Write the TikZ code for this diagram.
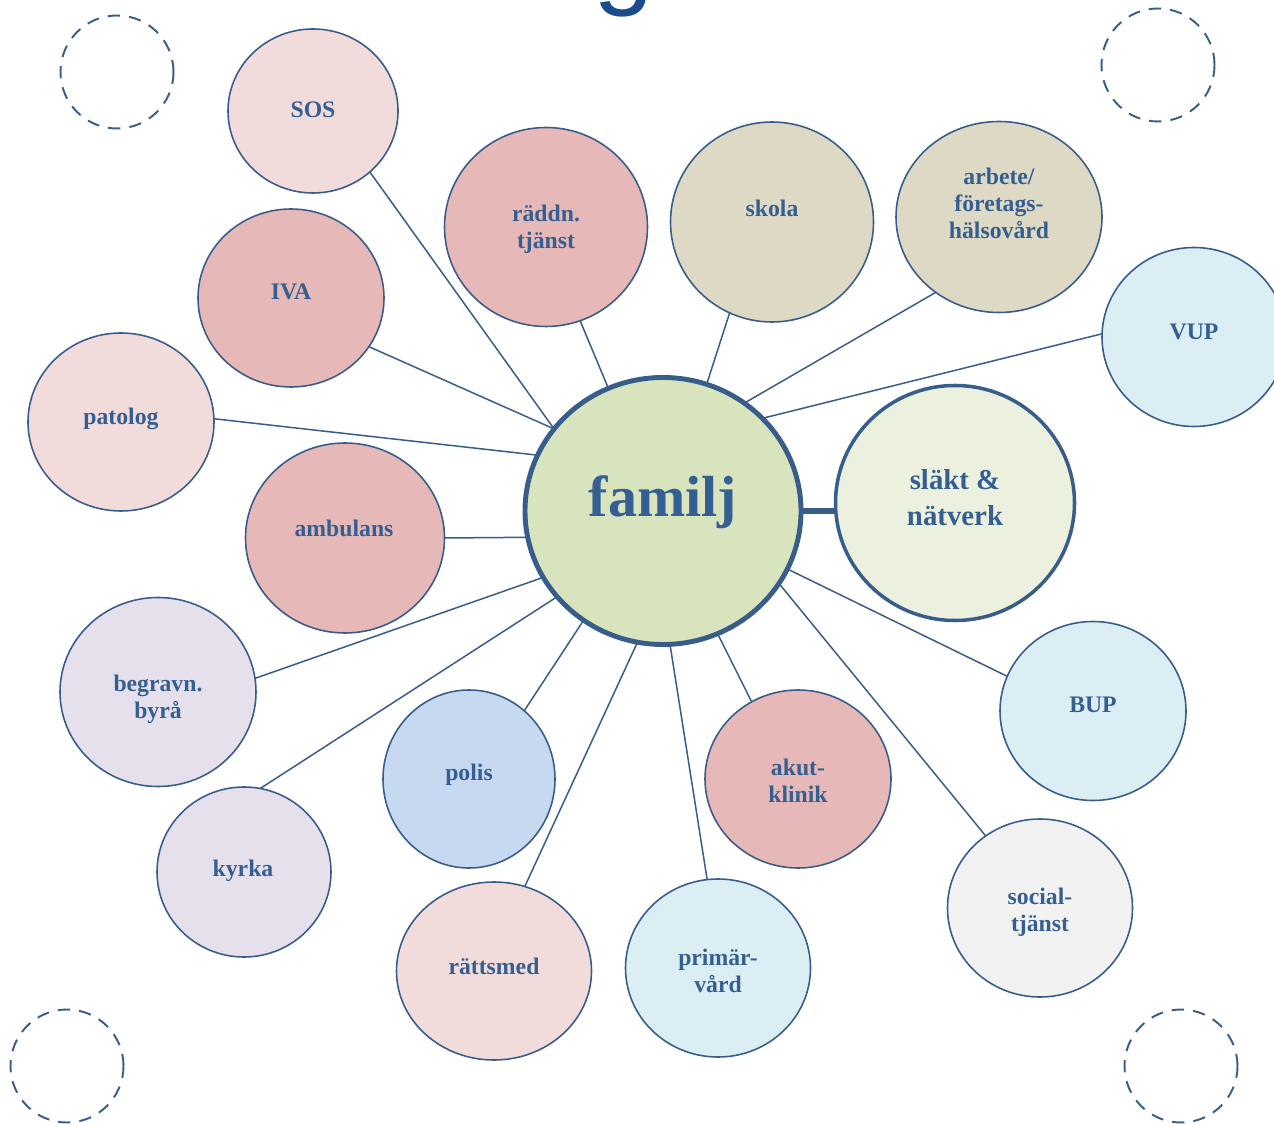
\documentclass[tikz,border=0pt]{standalone}
\usepackage{fontspec}
\setmainfont{Liberation Serif}
\newfontfamily\titlefont{Liberation Sans}
\usetikzlibrary{shapes.geometric}
\definecolor{txt}{HTML}{365F91}
\definecolor{edge}{HTML}{385D8A}
\definecolor{titleblue}{HTML}{1A4C8C}
\definecolor{cpink}{HTML}{F2DCDB}
\definecolor{cred}{HTML}{E6B8B7}
\definecolor{ctan}{HTML}{DDD9C4}
\definecolor{cltblue}{HTML}{DBEEF4}
\definecolor{clav}{HTML}{E5E0EC}
\definecolor{cblue}{HTML}{C6D9F0}
\definecolor{cgrey}{HTML}{F2F2F2}
\definecolor{cgreen}{HTML}{D7E4BD}
\definecolor{cltgreen}{HTML}{EBF1DE}
\begin{document}
\begin{tikzpicture}[x=0.02cm,y=-0.02cm,
  bub/.style={ellipse, draw=edge, line width=0.9pt, inner sep=0pt, outer sep=0pt},
  sz/.style 2 args={minimum width=#1*0.02cm, minimum height=#2*0.02cm},
  lbl/.style={text=txt, font=\bfseries\fontsize{13.5}{15.4}\selectfont, align=center, inner sep=0pt},
  conn/.style={draw=edge, line width=0.85pt},
  ring/.style={circle, draw=edge, line width=1.1pt, dash pattern=on 7pt off 5.2pt, minimum size=113*0.02cm, inner sep=0pt}
]
\clip (0,0) rectangle (1274,1124);
\fill[white] (0,0) rectangle (1274,1124);

% partial title
\node[anchor=base, text=titleblue, font=\titlefont\fontsize{62}{62}\selectfont, inner sep=0pt] (title) at (624,-5) {g};

% dashed rings
\node[ring] (r1) at (117,72) {};
\node[ring] (r2) at (1158,65) {};
\node[ring] (r3) at (67,1066) {};
\node[ring] (r4) at (1181,1066) {};

% central nodes
\node[bub, fill=cgreen, line width=2.8pt, sz={276}{267}] (familj) at (663,511) {};
\node[bub, fill=cltgreen, line width=2pt, sz={239}{235}] (slakt) at (955,503) {};

% bubbles
\node[bub, fill=cpink,   sz={170}{164}] (sos)    at (313,111) {};
\node[bub, fill=cred,    sz={203}{199}] (radd)   at (546,227) {};
\node[bub, fill=ctan,    sz={203}{200}] (skola)  at (772,222) {};
\node[bub, fill=ctan,    sz={206}{191}] (arbete) at (999,217) {};
\node[bub, fill=cltblue, sz={184}{179}] (vup)    at (1194,337) {};
\node[bub, fill=cred,    sz={186}{178}] (iva)    at (291,298) {};
\node[bub, fill=cpink,   sz={186}{178}] (pat)    at (121,422) {};
\node[bub, fill=cred,    sz={199}{190}] (amb)    at (345,538) {};
\node[bub, fill=clav,    sz={196}{189}] (begr)   at (158,692) {};
\node[bub, fill=clav,    sz={174}{170}] (kyrka)  at (244,872) {};
\node[bub, fill=cblue,   sz={172}{178}] (polis)  at (469,779) {};
\node[bub, fill=cpink,   sz={195}{178}] (ratt)   at (494,971) {};
\node[bub, fill=cltblue, sz={185}{178}] (prim)   at (718,968) {};
\node[bub, fill=cred,    sz={186}{178}] (akut)   at (798,779) {};
\node[bub, fill=cltblue, sz={186}{179}] (bup)    at (1093,711) {};
\node[bub, fill=cgrey,   sz={185}{178}] (soc)    at (1040,908) {};

% connectors
\draw[conn] (familj.143.5) -- (sos.313);
\draw[conn] (familj.114.9) -- (radd.290.2);
\draw[conn] (familj.71.6) -- (skola.245.2);
\draw[conn] (familj.53.4) -- (arbete.230.7);
\draw[conn] (familj.43.2) -- (vup.178.1);
\draw[conn] (familj.143.8) -- (iva.328.2);
\draw[conn] (familj.156.2) -- (pat.2.5);
\draw[conn] (familj.191.5) -- (amb.0);
\draw[conn] (familj.209.5) -- (begr.8.8);
\draw[conn] (familj.219.1) -- (kyrka.79.9);
\draw[conn] (familj.234.1) -- (polis.51.4);
\draw[conn] (familj.259.4) -- (ratt.70);
\draw[conn] (familj.273.4) -- (prim.97.8);
\draw[conn] (familj.294.1) -- (akut.121.4);
\draw[conn] (familj.335.2) -- (bup.158.4);
\draw[conn] (familj.328.6) -- (soc.127.4);
\draw[draw=edge, line width=3pt] (familj.east) -- (familj.east -| slakt.west);

% labels
\node[lbl, font=\bfseries\fontsize{33}{36}\selectfont] (familj-t) at (663,502) {familj};
\node[lbl, font=\bfseries\fontsize{16.4}{20.5}\selectfont] (slakt-t) at (955,498) {släkt \&\\nätverk};
\node[lbl] (sos-t)    at (313,110) {SOS};
\node[lbl] (radd-t)   at (546,229) {räddn.\\tjänst};
\node[lbl] (skola-t)  at (772,208) {skola};
\node[lbl] (arbete-t) at (999,203) {arbete/\\företags-\\hälsovård};
\node[lbl] (vup-t)    at (1194,332) {VUP};
\node[lbl] (iva-t)    at (291,292) {IVA};
\node[lbl] (pat-t)    at (121,419) {patolog};
\node[lbl] (amb-t)    at (344,528) {ambulans};
\node[lbl] (begr-t)   at (158,699) {begravn.\\byrå};
\node[lbl] (kyrka-t)  at (243,871) {kyrka};
\node[lbl] (polis-t)  at (469,775) {polis};
\node[lbl] (ratt-t)   at (494,966) {rättsmed};
\node[lbl] (prim-t)   at (718,971) {primär-\\vård};
\node[lbl] (akut-t)   at (798,781) {akut-\\klinik};
\node[lbl] (bup-t)    at (1093,705) {BUP};
\node[lbl] (soc-t)    at (1040,912) {social-\\tjänst};
\end{tikzpicture}
\end{document}
